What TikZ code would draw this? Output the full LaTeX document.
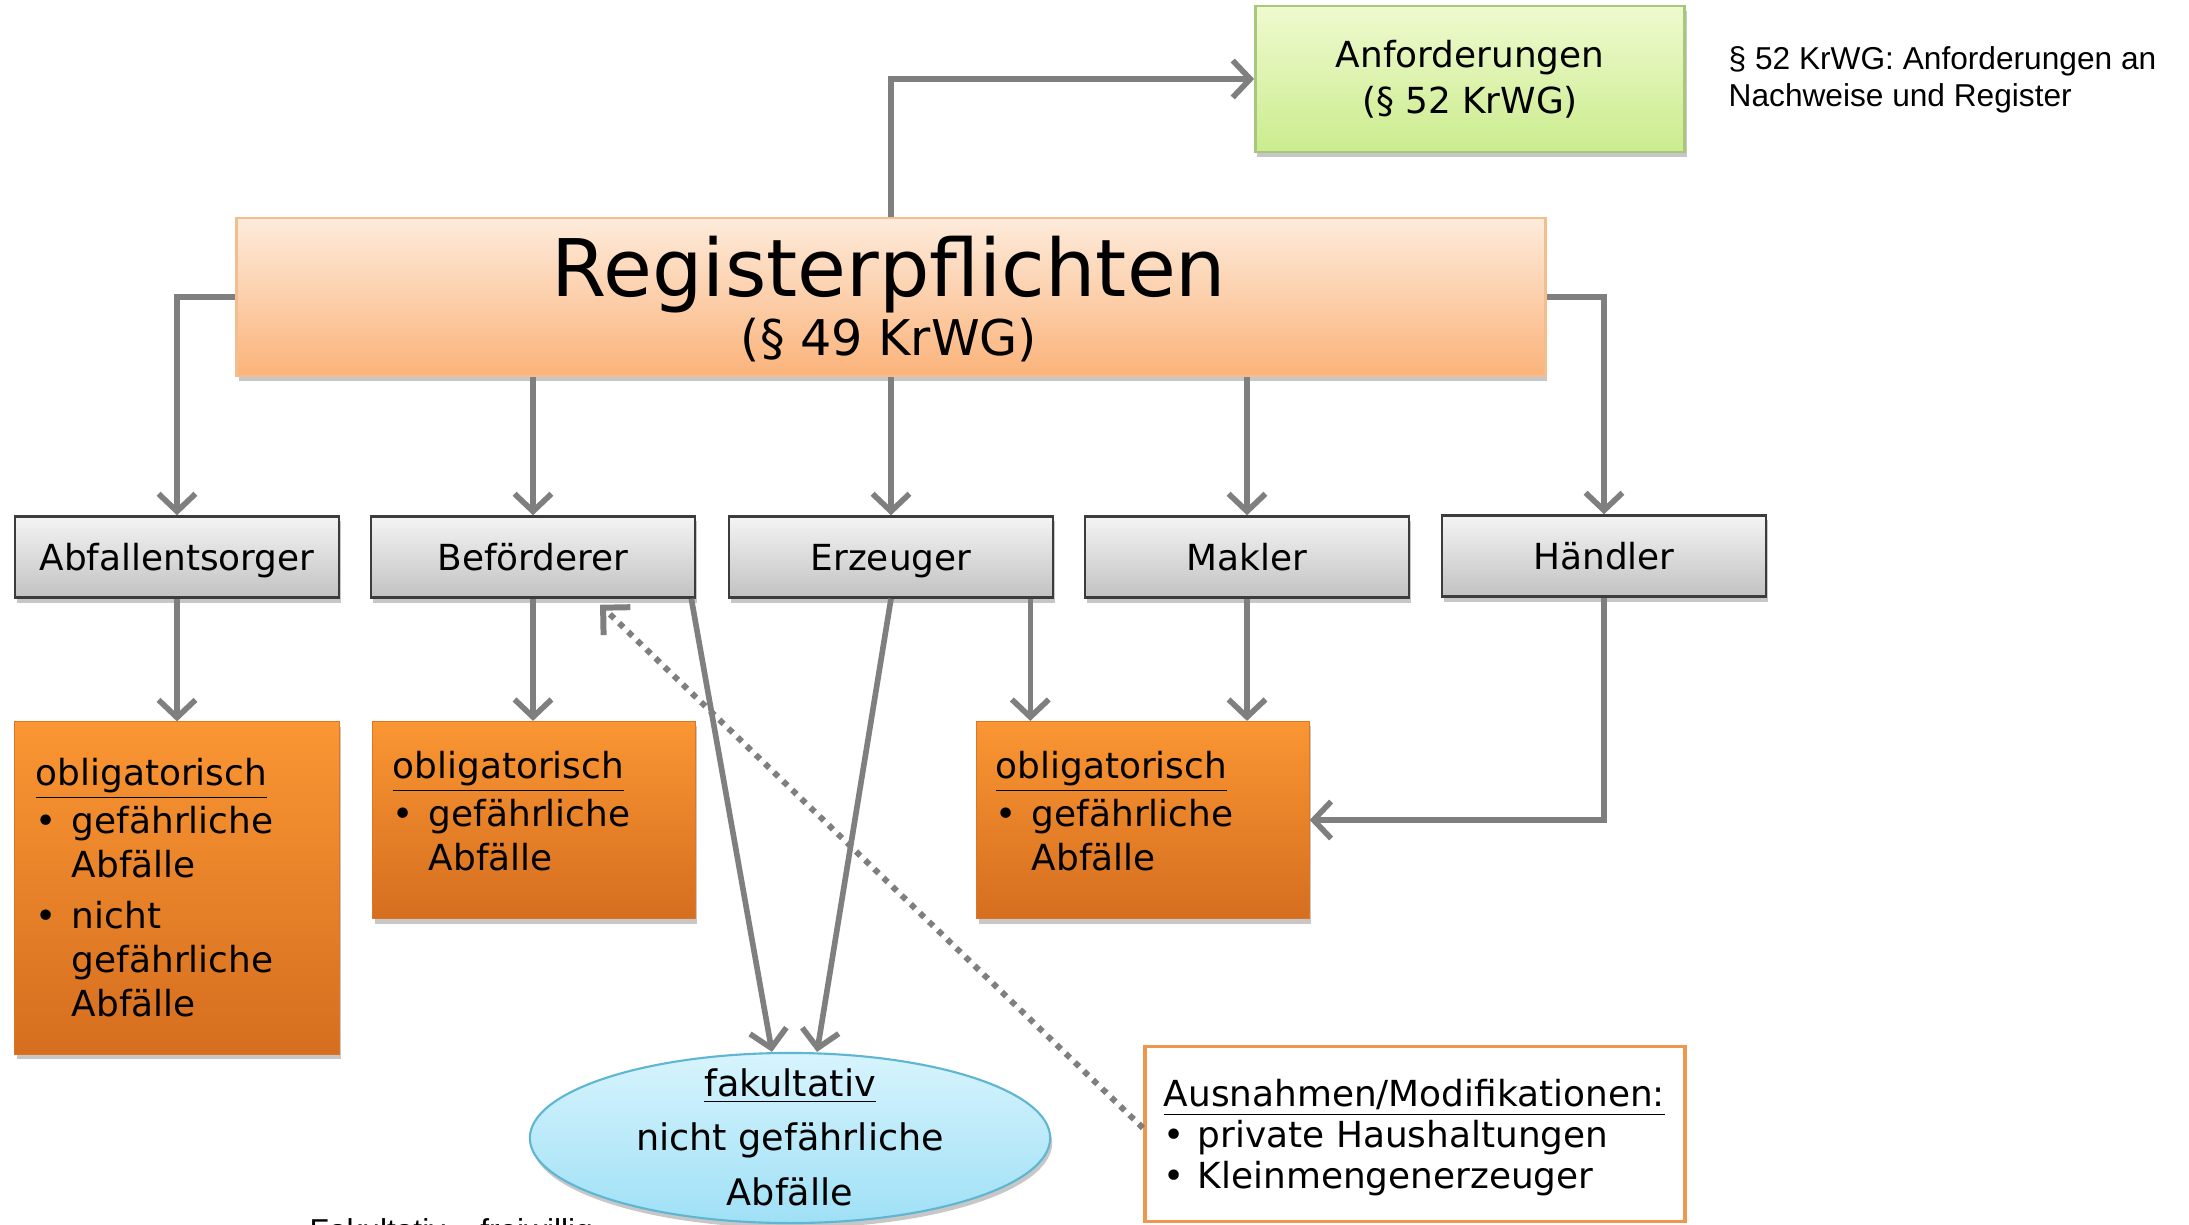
\documentclass[tikz,border=0pt]{standalone}
\usepackage{fontspec}
\setmainfont{DejaVu Sans}
\newfontfamily\arialfont{Liberation Sans}
\usetikzlibrary{arrows.meta,shapes.geometric,shadows}
\definecolor{arrgray}{HTML}{7F7F7F}
\definecolor{grayTop}{HTML}{F4F4F4}
\definecolor{grayBot}{HTML}{C2C2C2}
\definecolor{grayBorder}{HTML}{3C3C3C}
\definecolor{orTop}{HTML}{FA9633}
\definecolor{orBot}{HTML}{D56E1F}
\definecolor{regTop}{HTML}{FDEBDB}
\definecolor{regBot}{HTML}{FBB37A}
\definecolor{regBorder}{HTML}{F2BE8E}
\definecolor{anfTop}{HTML}{EFFACF}
\definecolor{anfBot}{HTML}{CBEC8E}
\definecolor{anfBorder}{HTML}{A8C67C}
\definecolor{ellTop}{HTML}{D7F4FD}
\definecolor{ellBot}{HTML}{9FE0F6}
\definecolor{ellBorder}{HTML}{5FB6D2}
\definecolor{ausBorder}{HTML}{F0974E}
\begin{document}
\begin{tikzpicture}[x=0.01cm,y=-0.01cm,
  shad/.style={drop shadow={shadow xshift=0.02cm, shadow yshift=-0.05cm, opacity=0.22, fill=black}},
  graybox/.style={rectangle, shad, minimum width=3.24cm, minimum height=0.81cm, inner sep=0pt,
    draw=grayBorder, line width=0.7pt, top color=grayTop, bottom color=grayBot,
    text height=8.8pt, text depth=1.4pt, font=\fontsize{10.2}{12}\selectfont},
  orbox/.style={rectangle, shad, inner sep=0pt, draw=orBot!80!orTop, line width=0.3pt,
    top color=orTop, bottom color=orBot},
  txt/.style={inner sep=0pt, text=black},
  conn/.style={draw=arrgray, line width=1.6pt, -{Straight Barb[length=5pt,width=10.5pt]}},
  dotconn/.style={draw=arrgray, line width=1.7pt, dash pattern=on 1.7pt off 1.9pt,
    -{Straight Barb[length=5.5pt,width=11pt]}}
]
\fill[white] (0,0) rectangle (2189,1225);
\useasboundingbox (0,0) rectangle (2189,1225);

% top boxes
\node[rectangle, shad, minimum width=4.29cm, minimum height=1.46cm, inner sep=0pt,
  draw=anfBorder, line width=0.7pt, top color=anfTop, bottom color=anfBot,
  align=center, font=\fontsize{10.2}{13}\selectfont] (anf) at (1470,79)
  {Anforderungen\\(§ 52 KrWG)};
\node[rectangle, shad, minimum width=13.08cm, minimum height=1.58cm, inner sep=0pt,
  draw=regBorder, line width=0.7pt, top color=regTop, bottom color=regBot] (reg) at (891,297) {};
\node[txt, anchor=base] (regt1) at (889,297) {\fontsize{22.6}{27}\selectfont Registerpflichten};
\node[txt, anchor=base] (regt2) at (889,356) {\fontsize{14}{17}\selectfont (§ 49 KrWG)};

\node[txt, anchor=base west] (side) at (1728,70)
  {\arialfont\fontsize{9}{10.5}\selectfont\begin{tabular}[t]{@{}l@{}}§ 52 KrWG: Anforderungen an\\Nachweise und Register\end{tabular}};

% gray row
\node[graybox] (abf) at (177,557) {Abfallentsorger};
\node[graybox] (bef) at (533,557) {Beförderer};
\node[graybox] (erz) at (891,557) {Erzeuger};
\node[graybox] (mak) at (1247,557) {Makler};
\node[graybox] (hae) at (1604,556) {Händler};

% orange boxes
\node[orbox, minimum width=3.24cm, minimum height=3.32cm] (ob1) at (177,888) {};
\node[orbox, minimum width=3.22cm, minimum height=1.97cm] (ob2) at (534,820) {};
\node[orbox, minimum width=3.32cm, minimum height=1.97cm] (ob3) at (1143,820) {};

\node[txt, anchor=base west] (ob1t) at (35,785) {\fontsize{10.2}{12.4}\selectfont
  \begin{tabular}[t]{@{}l@{\hspace{0.15cm}}l@{}}
  \multicolumn{2}{@{}l@{}}{\underline{obligatorisch}}\\[0.05cm]
  • & gefährliche\\
    & Abfälle\\[0.08cm]
  • & nicht\\
    & gefährliche\\
    & Abfälle
  \end{tabular}};
\node[txt, anchor=base west] (ob2t) at (392,778) {\fontsize{10.2}{12.4}\selectfont
  \begin{tabular}[t]{@{}l@{\hspace{0.15cm}}l@{}}
  \multicolumn{2}{@{}l@{}}{\underline{obligatorisch}}\\[0.05cm]
  • & gefährliche\\
    & Abfälle
  \end{tabular}};
\node[txt, anchor=base west] (ob3t) at (995,778) {\fontsize{10.2}{12.4}\selectfont
  \begin{tabular}[t]{@{}l@{\hspace{0.15cm}}l@{}}
  \multicolumn{2}{@{}l@{}}{\underline{obligatorisch}}\\[0.05cm]
  • & gefährliche\\
    & Abfälle
  \end{tabular}};

% ellipse
\node[ellipse, shad, minimum width=5.2cm, minimum height=1.7cm, inner sep=0pt,
  draw=ellBorder, line width=0.6pt, top color=ellTop, bottom color=ellBot] (fak) at (790,1138) {};
\node[txt, anchor=base] (fakt) at (790,1096) {\fontsize{10.4}{15.6}\selectfont
  \begin{tabular}[t]{@{}c@{}}\underline{fakultativ}\\nicht gefährliche\\Abfälle\end{tabular}};

% exceptions box
\node[rectangle, minimum width=5.40cm, minimum height=1.75cm, inner sep=0pt,
  draw=ausBorder, line width=1.1pt, fill=white] (aus) at (1415,1134) {};
\node[txt, anchor=base west] (aust) at (1163,1106) {\fontsize{10.2}{11.7}\selectfont
  \begin{tabular}[t]{@{}l@{\hspace{0.13cm}}l@{}}
  \multicolumn{2}{@{}l@{}}{\underline{Ausnahmen/Modifikationen:}}\\
  • & private Haushaltungen\\
  • & Kleinmengenerzeuger
  \end{tabular}};

\node[txt, anchor=base west] (fakult) at (309,1241) {\arialfont\fontsize{9}{10}\selectfont Fakultativ – freiwillig};

% connectors
\coordinate (erzR) at ([xshift=-0.24cm]erz.south east);
\coordinate (befR) at ([xshift=-0.05cm]bef.south east);
\draw[conn] (reg.north) |- (anf.west);
\draw[conn] (reg.west) -| (abf.north);
\draw[conn] (reg.east) -| (hae.north);
\draw[conn] (reg.south -| bef.north) -- (bef.north);
\draw[conn] (reg.south -| erz.north) -- (erz.north);
\draw[conn] (reg.south -| mak.north) -- (mak.north);
\draw[conn] (abf.south) -- (ob1.north);
\draw[conn] (bef.south) -- (bef.south |- ob2.north);
\draw[conn] (mak.south) -- (mak.south |- ob3.north);
\draw[conn] (erzR) -- (erzR |- ob3.north);
\draw[conn] (hae.south) |- (ob3.east);
\draw[conn] (befR) -- ([xshift=-0.18cm]fak.north);
\draw[conn] (erz.south) -- ([xshift=0.27cm]fak.north);
\draw[dotconn] ([yshift=0.06cm]aus.west) -- ([xshift=0.67cm,yshift=-0.06cm]bef.south);
\end{tikzpicture}
\end{document}
